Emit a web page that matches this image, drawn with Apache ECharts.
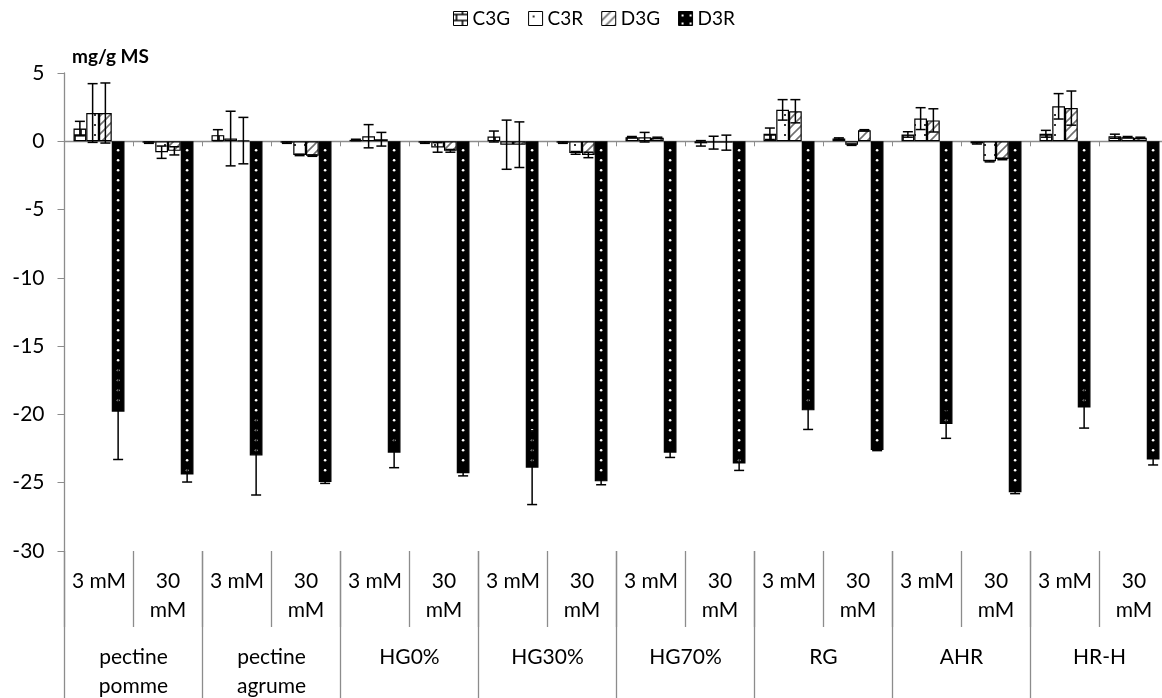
<!DOCTYPE html>
<html><head><meta charset="utf-8">
<script src="https://cdn.jsdelivr.net/npm/echarts@6/dist/echarts.min.js"></script>
<style>html,body{margin:0;padding:0;background:#fff}#c{width:1162px;height:698px}</style>
</head><body><div id="c"></div>
<script>
// ---- data ----
const concentrations = ['3 mM','30\nmM','3 mM','30\nmM','3 mM','30\nmM','3 mM','30\nmM','3 mM','30\nmM','3 mM','30\nmM','3 mM','30\nmM','3 mM','30\nmM'];
const groups = ['pectine\npomme','pectine\nagrume','HG0%','HG30%','HG70%','RG','AHR','HR-H'];
const seriesNames = ['C3G','C3R','D3G','D3R'];
const C3G = [0.93,-0.1,0.45,-0.1,0.1,-0.1,0.35,-0.1,0.3,-0.15,0.55,0.2,0.5,-0.15,0.55,0.37];
const C3G_err = [0.53,0.05,0.4,0.05,0.05,0.05,0.4,0.05,0.05,0.2,0.42,0.05,0.2,0.05,0.25,0.15];
const C3R = [2.07,-0.8,0.2,-1.0,0.37,-0.45,-0.25,-0.85,0.3,-0.1,2.3,-0.25,1.66,-1.46,2.56,0.3];
const C3R_err = [2.15,0.45,2.0,0.05,0.85,0.35,1.8,0.1,0.35,0.47,0.75,0.05,0.8,0.05,0.93,0.05];
const D3G = [2.07,-0.7,0.05,-1.05,0.15,-0.7,-0.25,-1.0,0.25,-0.1,2.2,0.8,1.53,-1.3,2.43,0.25];
const D3G_err = [2.2,0.3,1.7,0.05,0.5,0.1,1.67,0.2,0.05,0.55,0.85,0.05,0.85,0.05,1.25,0.05];
const D3R = [-19.8,-24.4,-23.0,-24.95,-22.8,-24.3,-23.9,-24.9,-22.8,-23.6,-19.7,-22.6,-20.7,-25.7,-19.5,-23.3];
const D3R_err = [3.5,0.55,2.9,0.1,1.1,0.2,2.7,0.25,0.35,0.5,1.4,0.05,1.05,0.1,1.5,0.4];
const yTicks = {min:-30, max:5, interval:5};

// ---- styling ----
const FONT = 'Lato';
const BAR_W = 12.75;
const CAP = 10;
const AXIS_GRAY = '#8c8c8c';

function pattern(kind){
  const c = document.createElement('canvas');
  const ctx = c.getContext('2d');
  if (kind === 'brick'){
    c.width = 12; c.height = 12;
    ctx.fillStyle = '#fff'; ctx.fillRect(0,0,12,12);
    ctx.strokeStyle = '#000'; ctx.lineWidth = 1.6;
    ctx.beginPath();
    ctx.moveTo(0,3); ctx.lineTo(12,3);
    ctx.moveTo(0,9); ctx.lineTo(12,9);
    ctx.moveTo(3,3); ctx.lineTo(3,9);
    ctx.moveTo(9,9); ctx.lineTo(9,12);
    ctx.moveTo(9,0); ctx.lineTo(9,3);
    ctx.stroke();
  } else if (kind === 'dots'){
    c.width = 10; c.height = 10;
    ctx.fillStyle = '#fff'; ctx.fillRect(0,0,10,10);
    ctx.fillStyle = '#333'; ctx.fillRect(4,4,2,2);
  } else if (kind === 'diag'){
    c.width = 9; c.height = 9;
    ctx.fillStyle = '#fff'; ctx.fillRect(0,0,9,9);
    ctx.strokeStyle = '#707070'; ctx.lineWidth = 1.6;
    ctx.beginPath();
    ctx.moveTo(-1,10); ctx.lineTo(10,-1);
    ctx.moveTo(-1,1); ctx.lineTo(1,-1);
    ctx.moveTo(8,10); ctx.lineTo(10,8);
    ctx.stroke();
  } else {
    c.width = 8; c.height = 8;
    ctx.fillStyle = '#000'; ctx.fillRect(0,0,8,8);
    ctx.fillStyle = '#fff'; ctx.fillRect(3,3,2,2);
  }
  return {image: c, repeat: 'repeat'};
}
const fills = [pattern('brick'), pattern('dots'), pattern('diag'), '#000'];
const legendFills = [pattern('brick'), pattern('dots'), pattern('diag'), pattern('dark')];
const values = [C3G, C3R, D3G, D3R];
const errors = [C3G_err, C3R_err, D3G_err, D3R_err];

function errRender(k){
  return function(params, api){
    const i = api.value(0), v = api.value(1), e = api.value(2);
    const base = api.coord([i, v]);
    const x = base[0] + (k - 1.5) * BAR_W;
    const yTop = api.coord([i, v + e])[1];
    const yBot = api.coord([i, v - e])[1];
    const st = {stroke:'#000', lineWidth:1.5};
    const ch = [];
    if (k === 3){
      const y0 = api.coord([i, 0])[1];
      for (let y = y0 + 9; y < base[1] - 3; y += 10){
        ch.push({type:'circle', shape:{cx:x, cy:y, r:1.3}, style:{fill:'#fff'}});
      }
    }
    ch.push({type:'line', shape:{x1:x,y1:yTop,x2:x,y2:yBot}, style:st});
    ch.push({type:'line', shape:{x1:x-CAP/2,y1:yTop,x2:x+CAP/2,y2:yTop}, style:st});
    ch.push({type:'line', shape:{x1:x-CAP/2,y1:yBot,x2:x+CAP/2,y2:yBot}, style:st});
    return {type:'group', children:ch};
  };
}

const series = [];
seriesNames.forEach((n, k) => {
  series.push({
    name: n, type: 'bar', xAxisIndex: 0, yAxisIndex: 0,
    barWidth: BAR_W, barGap: '0%',
    data: values[k],
    itemStyle: {color: fills[k], borderColor: '#000', borderWidth: 1.2},
    emphasis: {disabled: true}, animation: false, z: 2
  });
});
seriesNames.forEach((n, k) => {
  series.push({
    name: n + '_err', type: 'custom', xAxisIndex: 0, yAxisIndex: 0,
    renderItem: errRender(k),
    data: values[k].map((v, i) => [i, v, errors[k][i]]),
    encode: {x: 0, y: 1}, z: 5, animation: false, silent: true
  });
});

const chart = echarts.init(document.getElementById('c'), null, {renderer: 'canvas'});
chart.setOption({
  animation: false,
  backgroundColor: '#fff',
  textStyle: {fontFamily: FONT},
  legend: {
    data: seriesNames.map((n, k) => ({name: n, itemStyle: {color: legendFills[k], borderColor:'#000', borderWidth:1}})),
    top: 4, left: 448, itemWidth: 14, itemHeight: 14, itemGap: 18, icon: 'rect',
    textStyle: {fontFamily: FONT, fontSize: 19, color: '#000'}
  },
  grid: {left: 64.5, right: -6.5, top: 73, bottom: 147, containLabel: false, outerBoundsMode: 'none'},
  graphic: [{type:'text', left: 72, top: 47, style:{text:'mg/g MS', font:'bold 19px ' + FONT, fill:'#000'}}],
  xAxis: [
    {type:'category', data: concentrations, position:'bottom',
     axisLine:{onZero:true, lineStyle:{color:AXIS_GRAY, width:1.3}},
     axisTick:{show:true, length:5, interval:0, lineStyle:{color:AXIS_GRAY}},
     axisLabel:{show:false}, splitLine:{show:false}},
    {type:'category', data: concentrations, position:'bottom',
     axisLine:{show:false, onZero:false},
     axisTick:{show:true, length:76, interval:0, lineStyle:{color:AXIS_GRAY, width:1.3}},
     axisLabel:{interval:0, margin:16, fontSize:21, lineHeight:29, color:'#000', fontFamily:FONT}},
    {type:'category', data: groups, position:'bottom',
     axisLine:{show:false, onZero:false},
     axisTick:{show:true, length:148, interval:0, lineStyle:{color:AXIS_GRAY, width:1.3}},
     axisLabel:{interval:0, margin:92, fontSize:21, lineHeight:29, color:'#000', fontFamily:FONT}}
  ],
  yAxis: [{type:'value', min: yTicks.min, max: yTicks.max, interval: yTicks.interval,
    axisLine:{show:true, lineStyle:{color:AXIS_GRAY, width:1.3}},
    axisTick:{show:true, length:7, lineStyle:{color:AXIS_GRAY}},
    axisLabel:{fontSize:21, color:'#000', margin:20, fontFamily:FONT},
    splitLine:{show:false}}],
  series: series
});
</script></body></html>
